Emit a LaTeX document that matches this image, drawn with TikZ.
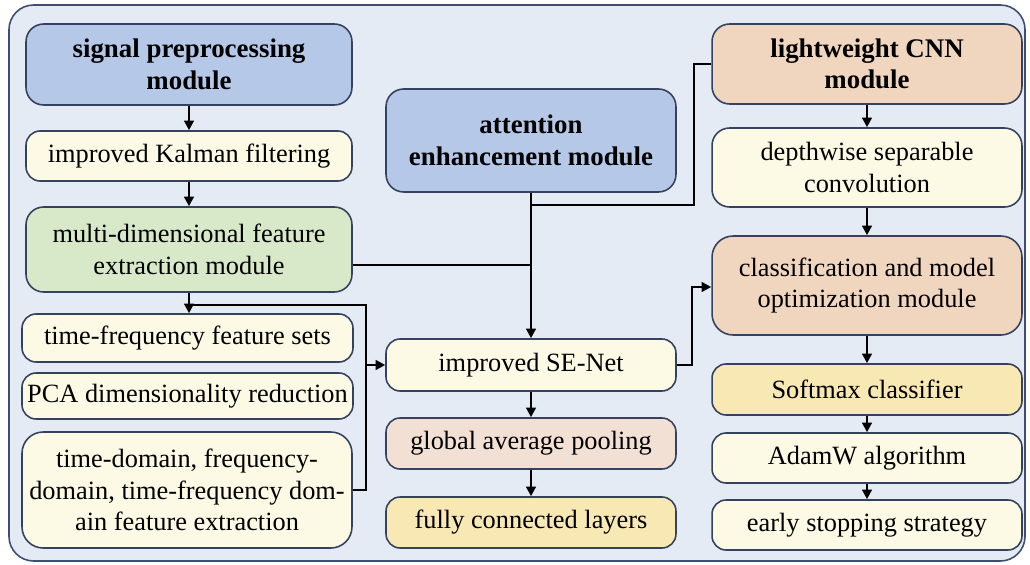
\documentclass[tikz,border=0pt]{standalone}
\usepackage{fontspec}
\setmainfont{Liberation Serif}
\usetikzlibrary{arrows.meta}
\definecolor{edge}{HTML}{34415F}
\definecolor{frame}{HTML}{3E4D74}
\definecolor{backg}{HTML}{E5EBF4}
\definecolor{bluehd}{HTML}{B6C8E8}
\definecolor{greenbx}{HTML}{D8E9CA}
\definecolor{peach}{HTML}{F1D6BF}
\definecolor{pink}{HTML}{F3E0D4}
\definecolor{cream}{HTML}{FCF9E5}
\definecolor{yellowbx}{HTML}{F8E8B3}

\begin{document}
\begin{tikzpicture}[x=0.02cm, y=-0.02cm,
  box/.style = {draw=edge, line width=0.9pt, rounded corners=8pt, align=center,
                inner sep=2pt, font=\fontsize{15}{18}\selectfont},
  head/.style = {box, rounded corners=10pt, font=\fontsize{15.3}{18}\selectfont\bfseries},
  link/.style = {line width=1.4pt, -{Triangle[length=5.5pt,width=5.5pt]}},
  wire/.style = {line width=1.4pt}]
\useasboundingbox (0,0) rectangle (1030,564);
\filldraw[fill=backg, draw=frame, line width=0.9pt, rounded corners=14pt] (9,5) rectangle (1025,561);

\node[head, fill=bluehd, minimum width=6.52cm, minimum height=1.62cm] (sig) at (189,64.5) {signal preprocessing\\module};
\node[box, fill=cream, minimum width=6.52cm, minimum height=1.0cm] (kal) at (189,156) {improved Kalman filtering};
\node[box, fill=greenbx, minimum width=6.52cm, minimum height=1.7cm, rounded corners=10pt] (mdf) at (189,249.5) {multi-dimensional feature\\extraction module};
\node[box, fill=cream, minimum width=6.62cm, minimum height=0.96cm] (tfs) at (187.5,338) {time-frequency feature sets};
\node[box, fill=cream, minimum width=6.62cm, minimum height=0.92cm] (pca) at (187.5,396) {PCA dimensionality reduction};
\node[box, fill=cream, minimum width=6.6cm, minimum height=2.32cm, rounded corners=12pt] (tdf) at (187,490) {time-domain, frequency-\\domain, time-frequency dom-\\ain feature extraction};

\node[head, fill=bluehd, minimum width=5.8cm, minimum height=2.06cm] (att) at (531,140.5) {attention\\enhancement module};
\node[box, fill=cream, minimum width=5.8cm, minimum height=1.04cm] (se) at (531,365) {improved SE-Net};
\node[box, fill=pink, minimum width=5.8cm, minimum height=1.02cm] (gap) at (531,443.5) {global average pooling};
\node[box, fill=yellowbx, minimum width=5.8cm, minimum height=1.02cm] (fcl) at (531,522.5) {fully connected layers};

\node[head, fill=peach, minimum width=6.2cm, minimum height=1.6cm] (cnn) at (867,64) {lightweight CNN\\module};
\node[box, fill=cream, minimum width=6.2cm, minimum height=1.58cm, rounded corners=10pt] (dsc) at (867,167.5) {depthwise separable\\convolution};
\node[box, fill=peach, minimum width=6.2cm, minimum height=1.98cm, rounded corners=12pt] (cmo) at (867,285.5) {classification and model\\optimization module};
\node[box, fill=yellowbx, minimum width=6.2cm, minimum height=1.02cm] (smx) at (867,389.5) {Softmax classifier};
\node[box, fill=cream, minimum width=6.2cm, minimum height=1.0cm] (adw) at (867,458) {AdamW algorithm};
\node[box, fill=cream, minimum width=6.2cm, minimum height=1.0cm] (ess) at (867,525) {early stopping strategy};

\coordinate (jl) at (366,305);
\coordinate (jm) at (531,265);
\coordinate (ja) at (694,205);
\coordinate (jr) at (692,287);

\draw[link] (sig) -- (kal);
\draw[link] (kal) -- (mdf);
\draw[link] (mdf.south) -- (mdf.south |- tfs.north);
\draw[wire] (tdf.east) -| (jl) -- (mdf.south |- jl);
\draw[link] (jl |- se.west) -- (se.west);
\draw[wire] (mdf.east |- jm) -- (jm);
\draw[wire] (cnn.west) -| (ja) -- (att.south |- ja);
\draw[link] (att.south) -- (se.north);
\draw[link] (se.east) -| (jr) -- (cmo.west |- jr);
\draw[link] (se) -- (gap);
\draw[link] (gap) -- (fcl);
\draw[link] (cnn) -- (dsc);
\draw[link] (dsc) -- (cmo);
\draw[link] (cmo) -- (smx);
\draw[link] (smx) -- (adw);
\draw[link] (adw) -- (ess);
\end{tikzpicture}
\end{document}
